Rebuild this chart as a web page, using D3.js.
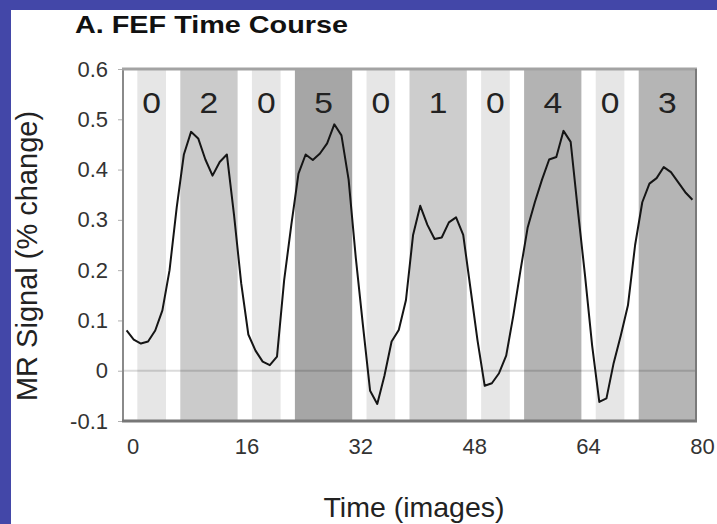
<!DOCTYPE html>
<html>
<head>
<meta charset="utf-8">
<script src="https://cdn.jsdelivr.net/npm/d3@7"></script>
<style>
  html, body { margin: 0; padding: 0; background: #ffffff; }
  svg { display: block; font-family: "Liberation Sans", Arial, Helvetica, sans-serif; }
</style>
</head>
<body>
<svg id="chart" width="717" height="524"></svg>
<script>
// FEF MR signal (% change), one value per image, images 1..80
const signal = [
  0.080, 0.062, 0.054, 0.058, 0.080, 0.120, 0.200, 0.325, 0.430, 0.475,
  0.462, 0.420, 0.388, 0.415, 0.430, 0.310, 0.174, 0.072, 0.040, 0.018,
  0.011, 0.028, 0.180, 0.290, 0.392, 0.430, 0.419, 0.432, 0.452, 0.490,
  0.468, 0.380, 0.225, 0.090, -0.040, -0.066, -0.010, 0.058, 0.081, 0.140,
  0.270, 0.328, 0.290, 0.262, 0.265, 0.295, 0.305, 0.270, 0.165, 0.060,
  -0.030, -0.025, -0.005, 0.030, 0.110, 0.200, 0.285, 0.335, 0.380, 0.420,
  0.425, 0.477, 0.455, 0.320, 0.190, 0.050, -0.062, -0.055, 0.015, 0.070,
  0.130, 0.250, 0.335, 0.372, 0.383, 0.405, 0.395, 0.375, 0.355, 0.340
];

// Condition blocks (in images) and the number shown on each
const blockStart = [2, 8, 18, 24, 34, 40, 50, 56, 66, 72];
const blockEnd   = [6, 16, 22, 32, 38, 48, 54, 64, 70, 80];
const blockLabel = ["0", "2", "0", "5", "0", "1", "0", "4", "0", "3"];

// Axis ticks
const yTicks = [-0.1, 0, 0.1, 0.2, 0.3, 0.4, 0.5, 0.6];
const xTicks = [0, 16, 32, 48, 64, 80];

// Shade of each block by its level
const shade = d3.scaleOrdinal()
  .domain(["0", "1", "2", "3", "4", "5"])
  .range(["#e6e6e6", "#cdcdcd", "#cbcbcb", "#b5b5b5", "#b3b3b3", "#a6a6a6"]);

const svg = d3.select("#chart");
const W = 717, H = 524;
const plot = { left: 123, right: 696, top: 69, bottom: 421 };

const x = d3.scaleLinear().domain([0, 80]).range([plot.left, plot.right]);
const y = d3.scaleLinear().domain([-0.1, 0.6]).range([plot.bottom, plot.top]);
// tick labels sit slightly right of the gridded time positions
const xLab = d3.scaleLinear().domain([0, 80]).range([132.5, 702]);

// Slide background and blue border
svg.append("rect").attr("x", 0).attr("y", 0).attr("width", W).attr("height", H).attr("fill", "#ffffff");
svg.append("rect").attr("x", 0).attr("y", 0).attr("width", W).attr("height", 10).attr("fill", "#4347a8");
svg.append("rect").attr("x", 0).attr("y", 0).attr("width", 11).attr("height", H).attr("fill", "#4347a8");

// Title
svg.append("text")
  .attr("x", 75).attr("y", 33)
  .attr("font-size", 24).attr("font-weight", "bold").attr("fill", "#111")
  .attr("textLength", 273).attr("lengthAdjust", "spacingAndGlyphs")
  .text("A. FEF Time Course");

const blocks = blockLabel.map((lab, i) => ({ lab, s: blockStart[i], e: blockEnd[i] }));

// Shaded condition blocks
svg.append("g").selectAll("rect").data(blocks).join("rect")
  .attr("x", d => x(d.s))
  .attr("y", y(0.6))
  .attr("width", d => x(d.e) - x(d.s))
  .attr("height", y(-0.1) - y(0.6))
  .attr("fill", d => shade(d.lab));

// Zero line
svg.append("line")
  .attr("x1", plot.left).attr("x2", plot.right)
  .attr("y1", y(0)).attr("y2", y(0))
  .attr("stroke", "rgba(0,0,0,0.14)").attr("stroke-width", 2);

// Block numbers
svg.append("g").selectAll("text").data(blocks).join("text")
  .attr("transform", d => `translate(${(x(d.s) + x(d.e)) / 2},112.5) scale(1.12,1)`)
  .attr("text-anchor", "middle")
  .attr("font-size", 30).attr("fill", "#222")
  .text(d => d.lab);

// Signal trace
const line = d3.line()
  .x((d, i) => x(i + 0.5))
  .y(d => y(d));
svg.append("defs").append("clipPath").attr("id", "plotClip")
  .append("rect").attr("x", plot.left).attr("y", plot.top)
  .attr("width", plot.right - plot.left).attr("height", plot.bottom - plot.top);
svg.append("path")
  .datum(signal)
  .attr("clip-path", "url(#plotClip)")
  .attr("d", line)
  .attr("fill", "none")
  .attr("stroke", "#151515")
  .attr("stroke-width", 2)
  .attr("stroke-linejoin", "round");

// Frame
svg.append("line").attr("x1", plot.left).attr("x2", plot.left)
  .attr("y1", plot.top).attr("y2", plot.bottom + 1)
  .attr("stroke", "#8a8a8a").attr("stroke-width", 2);
svg.append("line").attr("x1", plot.left - 1).attr("x2", plot.right + 1)
  .attr("y1", plot.top).attr("y2", plot.top)
  .attr("stroke", "#a3a3a3").attr("stroke-width", 3);
svg.append("line").attr("x1", plot.left - 1).attr("x2", plot.right + 1)
  .attr("y1", plot.bottom).attr("y2", plot.bottom)
  .attr("stroke", "#777777").attr("stroke-width", 3);
svg.append("line").attr("x1", plot.right).attr("x2", plot.right)
  .attr("y1", plot.top).attr("y2", plot.bottom + 1)
  .attr("stroke", "#7a7a7a").attr("stroke-width", 2);

// Y axis
const yAxis = svg.append("g")
  .attr("transform", `translate(${plot.left - 1},0)`)
  .call(d3.axisLeft(y).tickValues(yTicks).tickSize(4).tickPadding(10)
    .tickFormat(d => d === 0 ? "0" : d3.format(".1f")(d).replace("\u2212", "-")));
yAxis.select(".domain").remove();
yAxis.selectAll(".tick line").attr("stroke", "#b0b0b0");
yAxis.selectAll(".tick text")
  .attr("font-size", 22).attr("fill", "#333")
  .attr("font-family", "Liberation Sans, Arial, sans-serif");

// X axis labels
const xAxis = svg.append("g")
  .attr("transform", `translate(0,${plot.bottom})`)
  .call(d3.axisBottom(xLab).tickValues(xTicks).tickSize(0).tickPadding(17));
xAxis.select(".domain").remove();
xAxis.selectAll(".tick text")
  .attr("font-size", 22).attr("fill", "#333")
  .attr("font-family", "Liberation Sans, Arial, sans-serif");

// Axis titles
svg.append("text")
  .attr("x", 414).attr("y", 517)
  .attr("text-anchor", "middle")
  .attr("font-size", 28.5).attr("fill", "#222")
  .text("Time (images)");
svg.append("text")
  .attr("transform", "translate(37,256) rotate(-90)")
  .attr("text-anchor", "middle")
  .attr("font-size", 29).attr("fill", "#222")
  .text("MR Signal (% change)");
</script>
</body>
</html>
